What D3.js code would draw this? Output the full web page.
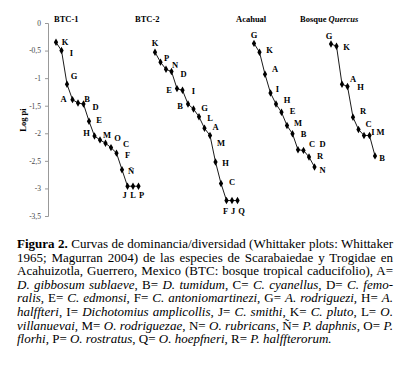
<!DOCTYPE html>
<html>
<head>
<meta charset="utf-8">
<script src="https://cdn.jsdelivr.net/npm/d3@7"></script>
<style>
    body { margin: 0; background: #fff; }
    #chart { position: absolute; left: 0; top: 0; }
    #caption {
        position: absolute; left: 17px; top: 237px; width: 376px;
        font-family: "Liberation Serif", "Times New Roman", serif;
        font-size: 13px; line-height: 13.6px; color: #000;
    }
    #caption div { text-align: justify; text-align-last: justify; white-space: nowrap; }
    #caption div.last { text-align-last: left; }
    .pt-label { font-family: "Liberation Serif", serif; font-weight: bold; font-size: 8.5px; }
    .title { font-family: "Liberation Serif", serif; font-weight: bold; font-size: 8.5px; }
    .tick text { font-family: "Liberation Serif", serif; font-size: 7.5px; fill: #444; }
</style>
</head>
<body>
<svg id="chart" width="400" height="235"></svg>
<div id="caption"></div>
<script>
// species ranks and log pi values for each site
let btc1Labels = ["K", "I", "G", "A", "B", "D", "E", "H", "M", "O", "C", "F", "Ñ", "J", "L", "P"];
let btc1Values = [-0.35, -0.50, -1.11, -1.39, -1.45, -1.47, -1.78, -2.05, -2.12, -2.18, -2.26, -2.36, -2.66, -2.96, -2.96, -2.96];

let btc2Labels = ["K", "P", "N", "D", "E", "I", "B", "G", "L", "A", "M", "H", "C", "F", "J", "Q"];
let btc2Values = [-0.53, -0.71, -0.84, -0.88, -1.19, -1.22, -1.47, -1.56, -1.70, -1.91, -2.04, -2.52, -2.91, -3.22, -3.22, -3.22];

let acahualLabels = ["G", "K", "A", "I", "H", "E", "M", "B", "C", "D", "R", "N"];
let acahualValues = [-0.37, -0.53, -0.93, -1.27, -1.47, -1.62, -1.86, -2.01, -2.30, -2.31, -2.43, -2.61];

let quercusLabels = ["G", "K", "A", "H", "R", "C", "I", "M", "B"];
let quercusValues = [-0.38, -0.42, -1.11, -1.15, -1.71, -1.93, -2.04, -2.04, -2.41];

let yTicks = [0, -0.5, -1, -1.5, -2, -2.5, -3, -3.5];

// label offsets (dx, dy) next to each point, same order as above
let btc1Offsets = [[9, 0], [10, 2], [7, -8], [-9, -1], [9, -4], [12, 3], [10, -1], [-8, -3], [7, -5], [12, -5], [15, -4], [11, 2], [9, 1], [-3, 9], [0, 9], [3, 9]];
let btc2Offsets = [[0, -9], [6, -4], [9, -4], [12, 2], [-8, 1], [11, 1], [-8, 2], [11, -1], [11, 1], [11, -1], [11, 8], [10, 1], [11, -1], [-1, 10], [1, 10], [4, 10]];
let acahualOffsets = [[0, -8], [10, -2], [10, -5], [7, -4], [11, -4], [11, -1], [11, -3], [11, 0], [14, -6], [19, -6], [11, -1], [8, 3]];
let quercusOffsets = [[-2, -8], [10, 1], [11, -5], [13, 1], [10, -6], [10, -5], [9, -3], [11, -3], [7, 2]];

let captionLines = [
    "<b>Figura 2.</b> Curvas de dominancia/diversidad (Whittaker plots: Whittaker",
    "1965; Magurran 2004) de las especies de Scarabaiedae y Trogidae en",
    "Acahuizotla, Guerrero, Mexico (BTC: bosque tropical caducifolio), A=",
    "<i>D. gibbosum sublaeve</i>, B= <i>D. tumidum</i>, C= <i>C. cyanellus</i>, D= <i>C. femo-</i>",
    "<i>ralis</i>, E= <i>C. edmonsi</i>, F= <i>C. antoniomartinezi</i>, G= <i>A. rodriguezi</i>, H= <i>A.</i>",
    "<i>halffteri</i>, I= <i>Dichotomius amplicollis</i>, J= <i>C. smithi</i>, K= <i>C. pluto</i>, L= <i>O.</i>",
    "<i>villanuevai</i>, M= <i>O. rodriguezae</i>, N= <i>O. rubricans</i>, Ñ= <i>P. daphnis</i>, O= <i>P.</i>",
    "<i>florhi</i>, P= <i>O. rostratus</i>, Q= <i>O. hoepfneri</i>, R= <i>P. halffterorum.</i>"
];

let panels = [
    {title: "BTC-1", labels: btc1Labels, values: btc1Values, offsets: btc1Offsets, start: 0, tx: 54},
    {title: "BTC-2", labels: btc2Labels, values: btc2Values, offsets: btc2Offsets, start: 18, tx: 135},
    {title: "Acahual", labels: acahualLabels, values: acahualValues, offsets: acahualOffsets, start: 36, tx: 236},
    {title: "Bosque <tspan font-style='italic'>Quercus</tspan>", labels: quercusLabels, values: quercusValues, offsets: quercusOffsets, start: 50, tx: 300}
];

let svg = d3.select("#chart");

let x = d3.scaleLinear().domain([0, 58]).range([56, 375]);
let y = d3.scaleLinear().domain([0, -3.5]).range([23, 216]);

// y axis
let yAxis = d3.axisLeft(y)
    .tickValues(yTicks)
    .tickSize(3)
    .tickPadding(4)
    .tickFormat(d => d3.format(".1~f")(d).replace(".", ",").replace("−", "-"));

let axisG = svg.append("g")
    .attr("transform", "translate(48,0)")
    .call(yAxis);
axisG.selectAll("path, line").attr("stroke", "#999");

svg.append("text")
    .attr("class", "title")
    .attr("transform", "translate(26,120) rotate(-90)")
    .attr("text-anchor", "middle")
    .text("Log pi");

let line = d3.line()
    .x(d => x(d.i))
    .y(d => y(d.v));

let diamond = d3.symbol().type(d3.symbolDiamond).size(16);

for (let p of panels) {
    let pts = p.values.map((v, k) => ({i: p.start + k, v: v, label: p.labels[k], off: p.offsets[k]}));
    let g = svg.append("g");

    g.append("text")
        .attr("class", "title")
        .attr("x", p.tx)
        .attr("y", 22)
        .html(p.title);

    g.append("path")
        .datum(pts)
        .attr("d", line)
        .attr("fill", "none")
        .attr("stroke", "#000")
        .attr("stroke-width", 0.9);

    g.selectAll("path.mark")
        .data(pts)
        .enter()
        .append("path")
        .attr("class", "mark")
        .attr("d", diamond)
        .attr("transform", d => "translate(" + x(d.i) + "," + y(d.v) + ")")
        .attr("fill", "#000");

    g.selectAll("text.pt-label")
        .data(pts)
        .enter()
        .append("text")
        .attr("class", "pt-label")
        .attr("x", d => x(d.i) + d.off[0])
        .attr("y", d => y(d.v) + d.off[1])
        .attr("text-anchor", "middle")
        .attr("dominant-baseline", "central")
        .text(d => d.label);
}

// caption, one justified line per div
d3.select("#caption").selectAll("div")
    .data(captionLines)
    .enter()
    .append("div")
    .classed("last", (d, i) => i === captionLines.length - 1)
    .html(d => d);
</script>
</body>
</html>
